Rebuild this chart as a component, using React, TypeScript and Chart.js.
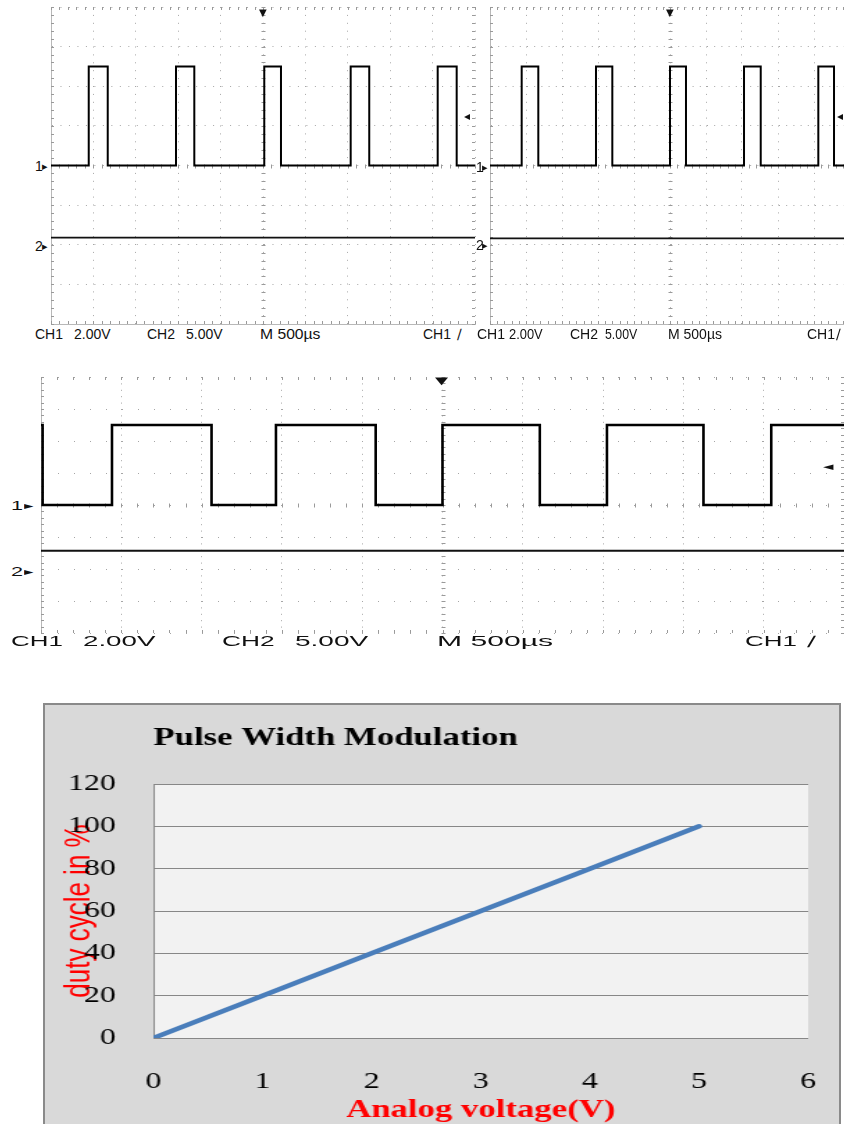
import React, { useEffect, useRef } from 'react';
import { Chart, registerables } from 'chart.js';

Chart.register(...registerables);

// ---------------- Oscilloscope captures (time in µs, 500 µs/div) ----------------
const scopeTimeMin = -2500;
const scopeTimeMax = 2500;
const scopeTimePerDiv = 500;
const scopeDivMin = -4;
const scopeDivMax = 4;
const ch1VoltsPerDiv = 2;
const ch1LowVolts = 0;
const ch1HighVolts = 5;

// scope 1 : narrow pulses
const scope1RiseTimes = [-2055, -1026, 15, 1034, 2060];
const scope1FallTimes = [-1831, -810, 212, 1253, 2284];
const scope1Ch2Offset = -1.82;

// scope 2 : narrow pulses
const scope2RiseTimes = [-2060, -1028, 0, 1028, 2060];
const scope2FallTimes = [-1829, -801, 222, 1260, 2278];
const scope2Ch2Offset = -1.84;

// scope 3 : wide pulses (starts high)
const scope3RiseTimes = [-2058, -1037, 0, 1024, 2047];
const scope3FallTimes = [-2490, -1438, -416, 606, 1625];
const scope3Ch2Offset = -1.43;

// ---------------- PWM chart ----------------
const analogVoltage = [0, 1, 2, 3, 4, 5];
const dutyCyclePercent = [0, 20, 40, 60, 80, 100];
const pwmXTickStep = 1;
const pwmYTickStep = 20;

const SANS = "'Liberation Sans', Arial, sans-serif";
const SERIF = "'Liberation Serif', 'Times New Roman', serif";
const SYM = "'DejaVu Sans', sans-serif";

function buildCh1Trace(rises: number[], falls: number[], startHigh: boolean) {
  const hi = ch1HighVolts / ch1VoltsPerDiv;
  const lo = ch1LowVolts / ch1VoltsPerDiv;
  const events = [
    ...rises.map((t) => ({ t, high: true })),
    ...falls.map((t) => ({ t, high: false })),
  ].sort((a, b) => a.t - b.t);
  let level = startHigh ? hi : lo;
  const pts: { x: number; y: number }[] = [{ x: scopeTimeMin, y: level }];
  for (const e of events) {
    pts.push({ x: e.t, y: level });
    level = e.high ? hi : lo;
    pts.push({ x: e.t, y: level });
  }
  pts.push({ x: scopeTimeMax, y: level });
  return pts;
}

const scopeMinorTicks = {
  id: 'scopeMinorTicks',
  beforeDatasetsDraw(chart: any) {
    const { ctx, chartArea: a, scales } = chart;
    const x = scales.x;
    const y = scales.y;
    const x0 = Math.round(x.getPixelForValue(0)) + 0.5;
    const y0 = Math.round(y.getPixelForValue(0)) + 0.5;
    ctx.save();
    ctx.strokeStyle = '#9a9a9a';
    ctx.lineWidth = 1;
    ctx.beginPath();
    for (let v = scopeTimeMin; v <= scopeTimeMax + 1; v += scopeTimePerDiv / 5) {
      const px = Math.round(x.getPixelForValue(v)) + 0.5;
      ctx.moveTo(px, y0 - 2);
      ctx.lineTo(px, y0 + 2);
      ctx.moveTo(px, a.bottom);
      ctx.lineTo(px, a.bottom - 3);
      ctx.moveTo(px, a.top);
      ctx.lineTo(px, a.top + 3);
    }
    for (let v = scopeDivMin; v <= scopeDivMax + 0.001; v += 0.2) {
      const py = Math.round(y.getPixelForValue(v)) + 0.5;
      ctx.moveTo(x0 - 2, py);
      ctx.lineTo(x0 + 2, py);
      ctx.moveTo(a.left, py);
      ctx.lineTo(a.left + 3, py);
      ctx.moveTo(a.right, py);
      ctx.lineTo(a.right - 3, py);
    }
    ctx.stroke();
    ctx.restore();
  },
};

type ScopeProps = {
  left: number;
  top: number;
  width: number;
  height: number;
  rises: number[];
  falls: number[];
  startHigh: boolean;
  ch2Offset: number;
  ch1Width: number;
  ch2Width: number;
  solidBottom: boolean;
  dotX: number;
  dotY: number;
};

function ScopeChart(p: ScopeProps) {
  const ref = useRef<HTMLCanvasElement>(null);
  useEffect(() => {
    const ch1 = buildCh1Trace(p.rises, p.falls, p.startHigh);
    const ch2 = [
      { x: scopeTimeMin, y: p.ch2Offset },
      { x: scopeTimeMax, y: p.ch2Offset },
    ];
    const chart = new Chart(ref.current as HTMLCanvasElement, {
      type: 'line',
      data: {
        datasets: [
          { data: ch2, borderColor: '#111', borderWidth: p.ch2Width, pointRadius: 0, tension: 0 },
          { data: ch1, borderColor: '#000', borderWidth: p.ch1Width, pointRadius: 0, tension: 0 },
        ],
      },
      options: {
        animation: false,
        responsive: false,
        devicePixelRatio: 1,
        events: [],
        layout: { padding: 2 },
        plugins: { legend: { display: false }, tooltip: { enabled: false }, title: { display: false } },
        scales: {
          x: {
            type: 'linear',
            min: scopeTimeMin,
            max: scopeTimeMax,
            ticks: { display: false, stepSize: scopeTimePerDiv },
            grid: { color: '#a6a6a6', lineWidth: 1, drawTicks: false },
            border: { display: p.solidBottom, color: '#b8b8b8', width: 1, dash: [1, p.dotY - 1] },
          },
          y: {
            type: 'linear',
            min: scopeDivMin,
            max: scopeDivMax,
            ticks: { display: false, stepSize: 1 },
            grid: { color: '#a6a6a6', lineWidth: 1, drawTicks: false },
            border: { display: true, color: '#b8b8b8', width: 1, dash: [1, p.dotX - 1] },
          },
        },
      } as any,
      plugins: [scopeMinorTicks],
    } as any);
    return () => chart.destroy();
  }, []);
  return (
    <canvas
      ref={ref}
      width={p.width}
      height={p.height}
      style={{ position: 'absolute', left: p.left, top: p.top, width: p.width, height: p.height }}
    />
  );
}

type Lbl = { t: string; x: number; y: number; s?: number; sx?: number; f?: string };

function TextLabel({ l }: { l: Lbl }) {
  const size = l.s ?? 14;
  return (
    <div
      style={{
        position: 'absolute',
        left: l.x,
        top: l.y - 0.49 * size,
        fontFamily: l.f ?? SANS,
        fontSize: size,
        lineHeight: 1,
        whiteSpace: 'nowrap',
        color: '#111',
        transform: `scaleX(${l.sx ?? 1})`,
        transformOrigin: '0 0',
      }}
    >
      {l.t}
    </div>
  );
}

const scope1Labels: Lbl[] = [
  { t: 'CH1', x: 35, y: 334 },
  { t: '2.00V', x: 74, y: 334 },
  { t: 'CH2', x: 147, y: 334 },
  { t: '5.00V', x: 186, y: 334 },
  { t: 'M 500µs', x: 260, y: 334, sx: 1.12 },
  { t: 'CH1', x: 423, y: 334 },
  { t: '∕', x: 457, y: 334, f: SYM },
  { t: '1', x: 35, y: 166 },
  { t: '▸', x: 42, y: 166, s: 11, f: SYM },
  { t: '2', x: 35, y: 246 },
  { t: '▸', x: 42, y: 246, s: 11, f: SYM },
  { t: '◂', x: 464, y: 116, s: 12, f: SYM },
  { t: '▼', x: 259, y: 13, s: 10, f: SYM },
];

const scope2Labels: Lbl[] = [
  { t: 'CH1', x: 477, y: 334 },
  { t: '2.00V', x: 509, y: 334, sx: 0.92 },
  { t: 'CH2', x: 570, y: 334 },
  { t: '5.00V', x: 605, y: 334, sx: 0.88 },
  { t: 'M 500µs', x: 668, y: 334 },
  { t: 'CH1', x: 807, y: 334 },
  { t: '∕', x: 836, y: 334, f: SYM },
  { t: '1', x: 476, y: 167 },
  { t: '▸', x: 482, y: 167, s: 11, f: SYM },
  { t: '2', x: 476, y: 245 },
  { t: '▸', x: 482, y: 245, s: 11, f: SYM },
  { t: '◂', x: 837, y: 116, s: 12, f: SYM },
  { t: '▼', x: 666, y: 13, s: 10, f: SYM },
];

const scope3Labels: Lbl[] = [
  { t: 'CH1', x: 11, y: 641, sx: 1.85 },
  { t: '2.00V', x: 83, y: 641, sx: 1.98 },
  { t: 'CH2', x: 222, y: 641, sx: 1.88 },
  { t: '5.00V', x: 295, y: 641, sx: 2 },
  { t: 'M 500µs', x: 437, y: 641, sx: 2.15 },
  { t: 'CH1', x: 745, y: 641, sx: 1.85 },
  { t: '∕', x: 807, y: 641, sx: 1.9, f: SYM },
  { t: '1', x: 11, y: 506, s: 12, sx: 1.8 },
  { t: '▸', x: 24, y: 506, s: 10, sx: 1.9, f: SYM },
  { t: '2', x: 11, y: 572, s: 12, sx: 1.8 },
  { t: '▸', x: 24, y: 572, s: 10, sx: 1.9, f: SYM },
  { t: '◂', x: 823, y: 466, s: 11, sx: 1.9, f: SYM },
  { t: '▼', x: 435, y: 381, s: 10, sx: 1.7, f: SYM },
];

const plotAreaFill = {
  id: 'plotAreaFill',
  beforeDraw(chart: any) {
    const { ctx, chartArea: a } = chart;
    ctx.save();
    ctx.fillStyle = '#f2f2f2';
    ctx.fillRect(a.left, a.top, a.right - a.left, a.bottom - a.top);
    ctx.restore();
  },
};

const PWM_W = 571;
const PWM_H = 419;
const PWM_STRETCH = 1.39;

function PwmChart() {
  const ref = useRef<HTMLCanvasElement>(null);
  useEffect(() => {
    const points = analogVoltage.map((v, i) => ({ x: v, y: dutyCyclePercent[i] }));
    const chart = new Chart(ref.current as HTMLCanvasElement, {
      type: 'line',
      data: {
        datasets: [
          {
            data: points,
            borderColor: '#4a7ebb',
            borderWidth: 4.5,
            borderCapStyle: 'round',
            pointRadius: 0,
            tension: 0,
          },
        ],
      },
      options: {
        animation: false,
        responsive: false,
        devicePixelRatio: 1,
        events: [],
        layout: { padding: { left: 0, right: 22, top: 0, bottom: 0 } },
        plugins: {
          legend: { display: false },
          tooltip: { enabled: false },
          title: {
            display: true,
            text: 'Pulse Width Modulation',
            align: 'start',
            fullSize: false,
            color: '#000',
            font: { family: SERIF, size: 25, weight: 'bold', lineHeight: 1.2 },
            padding: { top: 19, bottom: 30 },
          },
        },
        scales: {
          x: {
            type: 'linear',
            min: 0,
            max: 6,
            afterFit(s: any) {
              s.height = 86;
              s.paddingLeft = 0;
              s.paddingRight = 0;
            },
            ticks: {
              stepSize: pwmXTickStep,
              padding: 30,
              color: '#000',
              font: { family: SERIF, size: 23, lineHeight: 1.2 },
            },
            grid: { display: false, drawTicks: false },
            border: { display: false },
            title: {
              display: true,
              text: 'Analog voltage(V)',
              color: '#ff0000',
              font: { family: SERIF, size: 25, weight: 'bold', lineHeight: 1.2 },
              padding: { top: 0, bottom: -2 },
            },
          },
          y: {
            type: 'linear',
            min: 0,
            max: 120,
            afterFit(s: any) {
              s.width = 78;
              s.paddingLeft = 0;
              s.paddingRight = 0;
            },
            ticks: {
              stepSize: pwmYTickStep,
              padding: 27,
              color: '#000',
              font: { family: SERIF, size: 23, lineHeight: 1.2 },
            },
            grid: { color: '#878787', lineWidth: 1, drawTicks: false },
            border: { display: true, color: '#878787', width: 1 },
            title: {
              display: true,
              text: 'duty cycle in %',
              color: '#ff0000',
              font: { family: SANS, size: 26, lineHeight: 1.2 },
              padding: { top: 9, bottom: 0 },
            },
          },
        },
      } as any,
      plugins: [plotAreaFill],
    } as any);
    return () => chart.destroy();
  }, []);
  return (
    <div
      style={{
        position: 'absolute',
        left: 43,
        top: 703,
        width: 798,
        height: 440,
        boxSizing: 'border-box',
        background: '#d9d9d9',
        border: '2px solid #8a8a8a',
        overflow: 'hidden',
      }}
    >
      <div
        style={{
          position: 'absolute',
          left: 0,
          top: 0,
          width: PWM_W,
          height: PWM_H,
          transform: `scaleX(${PWM_STRETCH})`,
          transformOrigin: '0 0',
        }}
      >
        <canvas ref={ref} width={PWM_W} height={PWM_H} style={{ width: PWM_W, height: PWM_H, display: 'block' }} />
      </div>
    </div>
  );
}

export default function App() {
  return (
    <div
      style={{
        position: 'absolute',
        left: 0,
        top: 0,
        width: 844,
        height: 1124,
        overflow: 'hidden',
        background: '#fff',
      }}
    >
      <ScopeChart
        left={49}
        top={5}
        width={428}
        height={321}
        rises={scope1RiseTimes}
        falls={scope1FallTimes}
        startHigh={false}
        ch2Offset={scope1Ch2Offset}
        ch1Width={2}
        ch2Width={1.6}
        solidBottom={true}
        dotX={8.48}
        dotY={7.9}
      />
      {scope1Labels.map((l, i) => (
        <TextLabel key={'a' + i} l={l} />
      ))}
      <div style={{ position: 'absolute', left: 476, top: 0, width: 368, height: 352, background: '#fff' }} />
      <ScopeChart
        left={488}
        top={5}
        width={364}
        height={321}
        rises={scope2RiseTimes}
        falls={scope2FallTimes}
        startHigh={false}
        ch2Offset={scope2Ch2Offset}
        ch1Width={2}
        ch2Width={1.6}
        solidBottom={true}
        dotX={7.2}
        dotY={7.9}
      />
      {scope2Labels.map((l, i) => (
        <TextLabel key={'b' + i} l={l} />
      ))}
      <ScopeChart
        left={39}
        top={375}
        width={807}
        height={260}
        rises={scope3RiseTimes}
        falls={scope3FallTimes}
        startHigh={true}
        ch2Offset={scope3Ch2Offset}
        ch1Width={2.6}
        ch2Width={2}
        solidBottom={false}
        dotX={16}
        dotY={6.4}
      />
      {scope3Labels.map((l, i) => (
        <TextLabel key={'c' + i} l={l} />
      ))}
      <PwmChart />
    </div>
  );
}
